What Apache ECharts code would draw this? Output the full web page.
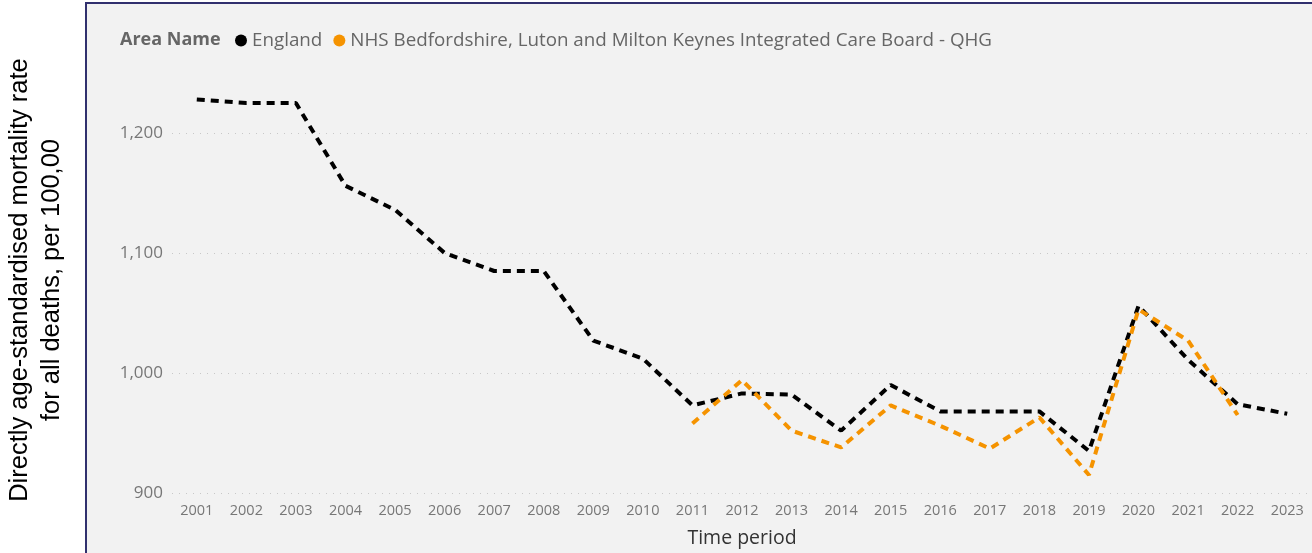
<!DOCTYPE html>
<html>
<head>
<meta charset="utf-8">
<script src="https://cdn.jsdelivr.net/npm/echarts@6/dist/echarts.min.js"></script>
<style>
  html, body { margin: 0; padding: 0; background: #fff; }
  #main { width: 1312px; height: 553px; }
</style>
</head>
<body>
<div id="main"></div>
<script>
var years = ['2001', '2002', '2003', '2004', '2005', '2006', '2007', '2008', '2009', '2010', '2011', '2012',
    '2013', '2014', '2015', '2016', '2017', '2018', '2019', '2020', '2021', '2022', '2023'];
var england = [1228, 1225, 1225, 1156, 1136, 1100, 1085, 1085, 1027, 1012, 973, 983,
    982, 952, 990, 968, 968, 968, 935, 1056, 1011, 974, 966];
var bedsLutonMk = [null, null, null, null, null, null, null, null, null, null, 958, 994,
    952, 938, 973, 956, 937, 963, 915, 1053, 1027, 965, null];
var yTicks = [900, 1000, 1100, 1200];

var chart = echarts.init(document.getElementById('main'));

var dash = [8, 6];
var option = {
    backgroundColor: '#fff',
    animation: false,
    title: {
        text: 'Area Name',
        left: 120,
        top: 31,
        padding: 0,
        textStyle: { fontFamily: 'Open Sans', fontSize: 18, fontWeight: 'bold', color: '#666' }
    },
    legend: {
        left: 235,
        top: 31,
        padding: 0,
        icon: 'circle',
        itemWidth: 12,
        itemHeight: 12,
        itemGap: 11,
        textStyle: { fontFamily: 'Open Sans', fontSize: 18.8, color: '#666' },
        data: ['England', 'NHS Bedfordshire, Luton and Milton Keynes Integrated Care Board - QHG']
    },
    graphic: [
        {
            type: 'rect',
            z: -10,
            shape: { x: 86, y: 3, width: 1240, height: 560 },
            style: { fill: '#f2f2f2', stroke: '#31306e', lineWidth: 2 }
        },
        {
            type: 'text',
            z: 10,
            x: 36,
            y: 280,
            rotation: Math.PI / 2,
            style: {
                text: 'Directly age-standardised mortality rate\nfor all deaths, per 100,00',
                fontFamily: 'Liberation Sans',
                fontSize: 25.5,
                lineHeight: 32,
                fill: '#000',
                align: 'center',
                verticalAlign: 'middle'
            }
        }
    ],
    grid: { left: 172, right: 0, top: 133, bottom: 60 },
    xAxis: {
        type: 'category',
        data: years,
        boundaryGap: true,
        axisLine: { show: false },
        axisTick: { show: false },
        axisLabel: { fontFamily: 'Open Sans', fontSize: 14.5, color: '#777', margin: 10 },
        name: 'Time period',
        nameLocation: 'middle',
        nameGap: 35,
        nameTextStyle: { fontFamily: 'Open Sans', fontSize: 19.5, color: '#333' }
    },
    yAxis: {
        type: 'value',
        min: yTicks[0],
        max: yTicks[yTicks.length - 1],
        interval: 100,
        axisLine: { show: false },
        axisTick: { show: false },
        axisLabel: {
            fontFamily: 'Open Sans', fontSize: 17, color: '#777', margin: 9,
            formatter: function (v) { return v.toLocaleString('en-GB'); }
        },
        splitLine: { lineStyle: { color: '#c8c8c8', width: 1, type: [1, 6] } }
    },
    series: [
        {
            name: 'England',
            type: 'line',
            data: england,
            clip: false,
            showSymbol: false,
            color: '#000',
            lineStyle: { width: 4, type: dash, color: '#000' }
        },
        {
            name: 'NHS Bedfordshire, Luton and Milton Keynes Integrated Care Board - QHG',
            type: 'line',
            data: bedsLutonMk,
            clip: false,
            showSymbol: false,
            color: '#f59300',
            lineStyle: { width: 4, type: dash, color: '#f59300' }
        }
    ]
};
chart.setOption(option);
</script>
</body>
</html>
